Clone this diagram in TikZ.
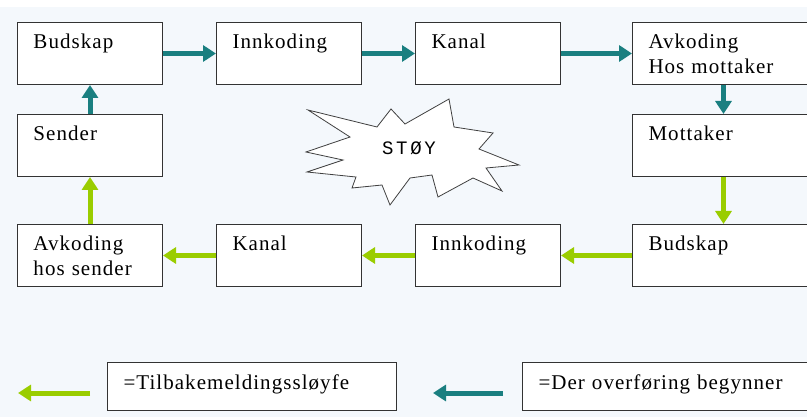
\documentclass[tikz,border=0pt]{standalone}
\usepackage{fontspec}
\setmainfont{Liberation Serif}
\newfontfamily\boxfont{Liberation Serif}[LetterSpace=5]
\newfontfamily\stoyfont{Liberation Mono}[LetterSpace=14]
\usepackage{xcolor}
\usepackage{tikz}
\usetikzlibrary{arrows.meta,positioning}

\definecolor{tealc}{HTML}{1A7F80}
\definecolor{limec}{HTML}{9ACD00}
\definecolor{bgc}{HTML}{F4F8FC}

\begin{document}
\begin{tikzpicture}[
    x=1pt, y=-1pt,
    font=\boxfont\fontsize{21}{25}\selectfont,
    block/.style={rectangle, draw=black!80, line width=1pt, fill=white, text width=113pt, align=left, inner xsep=16pt, inner ysep=9pt, text height=17.5pt, text depth=26.5pt},
    wideblock/.style={block, text width=150pt},
    legend/.style={block, text width=257pt, text depth=12.5pt},
    tealarrow/.style={-{Triangle[width=16pt,length=13pt]}, line width=5pt, draw=tealc},
    limearrow/.style={-{Triangle[width=16pt,length=13pt]}, line width=5pt, draw=limec}
]
\path[use as bounding box, clip] (0,0) rectangle (807,417);
\fill[white] (0,0) rectangle (807,417);
\fill[bgc] (0,7) rectangle (807,417);

% transmission loop
\node[block, anchor=north west] (budskap1) at (17,22) {Budskap};
\node[block, right=53pt of budskap1] (innkoding1) {Innkoding};
\node[block, right=53pt of innkoding1] (kanal1) {Kanal};
\node[wideblock, right=71pt of kanal1] (avkoding1) {Avkoding\\Hos mottaker};
\node[wideblock, below=29pt of avkoding1] (mottaker) {Mottaker};

% feedback loop
\node[wideblock, below=47pt of mottaker] (budskap2) {Budskap};
\node[block, left=71pt of budskap2] (innkoding2) {Innkoding};
\node[block, left=53pt of innkoding2] (kanal2) {Kanal};
\node[block, left=53pt of kanal2] (avkoding2) {Avkoding\\hos sender};
\node[block, above=47pt of avkoding2] (sender) {Sender};

\draw[tealarrow] (sender) -- (budskap1);
\draw[tealarrow] (budskap1) -- (innkoding1);
\draw[tealarrow] (innkoding1) -- (kanal1);
\draw[tealarrow] (kanal1) -- (avkoding1);
\draw[tealarrow] (avkoding1) -- (mottaker);
\draw[limearrow] (mottaker) -- (budskap2);
\draw[limearrow] (budskap2) -- (innkoding2);
\draw[limearrow] (innkoding2) -- (kanal2);
\draw[limearrow] (kanal2) -- (avkoding2);
\draw[limearrow] (avkoding2) -- (sender);

% noise
\draw[draw=black!75, line width=0.8pt, fill=white]
    (308,110) -- (377,127) -- (391,109) -- (405,124) -- (449,99) -- (454,127)
    -- (493,133) -- (479,149) -- (519,165) -- (486,168) -- (502,191) -- (473,178)
    -- (438,197) -- (432,175) -- (410,178) -- (390,205) -- (382,185) -- (352,188)
    -- (356,177) -- (307,172) -- (343,160) -- (306,152) -- (350,137) -- cycle;
\node[font=\stoyfont\fontsize{19}{21}\selectfont] (stoy) at (409,148) {STØY};

% legend
\node[legend, anchor=north west] (tilbake) at (107,362) {=Tilbakemeldingssløyfe};
\node[legend, right=125pt of tilbake] (overforing) {=Der overføring begynner};
\coordinate (tilbakeA) at (90,393);
\coordinate (tilbakeB) at (18,393);
\coordinate (overforingA) at (503,393);
\coordinate (overforingB) at (433,393);
\draw[limearrow] (tilbakeA) -- (tilbakeB);
\draw[tealarrow] (overforingA) -- (overforingB);

\end{tikzpicture}
\end{document}
